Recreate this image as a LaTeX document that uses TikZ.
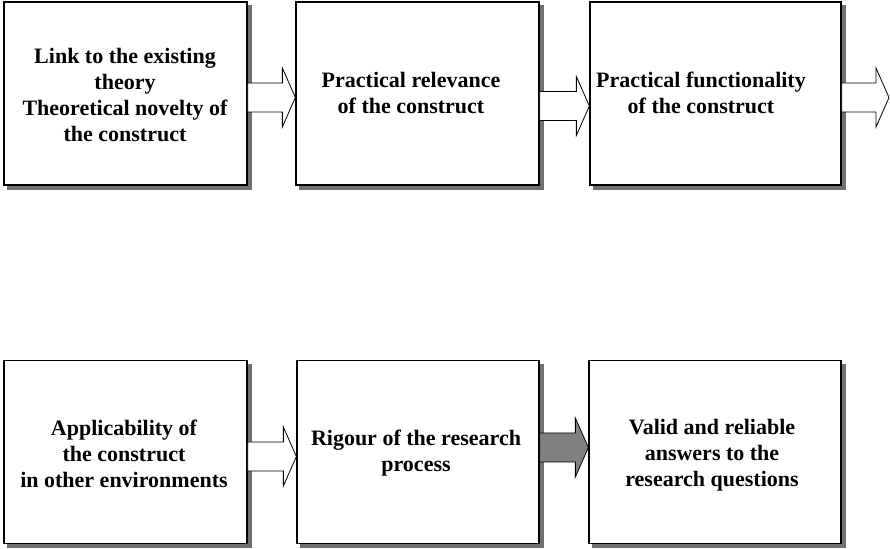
\documentclass[tikz,border=0pt]{standalone}
\usepackage{fontspec}
\setmainfont{Liberation Serif}
\usetikzlibrary{calc}

\definecolor{shadowgray}{RGB}{112,112,112}
\definecolor{arrowgray}{RGB}{128,128,128}

\tikzset{
  box/.style={draw=black, line width=1.3pt, fill=white, rectangle, inner sep=0pt,
    minimum height=183pt,
    preaction={draw=shadowgray, fill=shadowgray, transform canvas={shift={(4pt,-4pt)}}}},
  label text/.style={align=center, inner sep=0pt,
    font=\fontsize{22}{26}\selectfont\bfseries},
  % hollow block arrow from the start point to the x of the target
  blockarrow/.style={line width=0.8pt, draw=black, line join=miter,
    to path={let \p1=(\tikztostart), \p2=(\tikztotarget) in
      (\x1,{\y1+14.5pt}) -- ({\x2-13pt},{\y1+14.5pt}) -- ({\x2-13pt},{\y1+29.5pt})
      -- (\x2,\y1) -- ({\x2-13pt},{\y1-29.5pt}) -- ({\x2-13pt},{\y1-14.5pt})
      -- (\x1,{\y1-14.5pt}) -- cycle}},
  openarrow/.style={blockarrow, fill=white},
  solidarrow/.style={blockarrow, fill=arrowgray}
}

\begin{document}
\begin{tikzpicture}[x=1pt,y=1pt]
\useasboundingbox (0,0) rectangle (890,548);

% upper row
\node[box, minimum width=243pt] (b1) at (125.5,454.5) {};
\node[box, minimum width=243pt] (b2) at (417.5,454.5) {};
\node[box, minimum width=251pt] (b3) at (715.5,454.5) {};

% lower row
\node[box, minimum width=243pt] (b4) at (125.5,96.25) {};
\node[box, minimum width=242pt] (b5) at (418,96.25) {};
\node[box, minimum width=252pt] (b6) at (715,96.25) {};

% texts
\node[label text] (t1) at (125,453) {Link to the existing\\theory\\Theoretical novelty of\\the construct};
\node[label text] (t2) at (411,455) {Practical relevance\\of the construct};
\node[label text] (t3) at (701,455) {Practical functionality\\of the construct};
\node[label text] (t4) at (124,94) {Applicability of\\the construct\\in other environments};
\node[label text] (t5) at (416,94.5) {Rigour of the research\\process};
\node[label text] (t6) at (712,93) {Valid and reliable\\answers to the\\research questions};

% connectors
\coordinate (e3) at (889,450.5);
\draw[openarrow] ([yshift=-4pt]b1.east) to (b2.west);
\draw[openarrow] ([yshift=-12.5pt]b2.east) to (b3.west);
\draw[openarrow] ([yshift=-4pt]b3.east) to (e3);
\draw[openarrow] ([yshift=-4.75pt]b4.east) to (b5.west);
\draw[solidarrow] ([yshift=4.25pt]b5.east) to (b6.west);
\end{tikzpicture}
\end{document}
